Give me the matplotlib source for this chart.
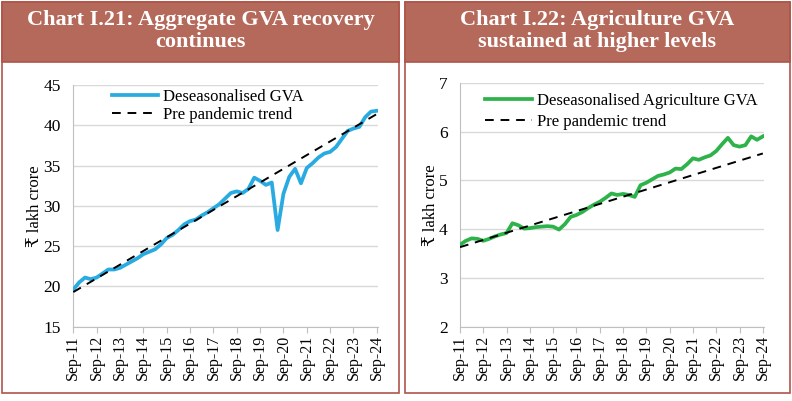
import matplotlib
matplotlib.use("Agg")
import matplotlib.pyplot as plt
from matplotlib.patches import Rectangle
import numpy as np

# quarterly data, Sep-11 .. Sep-24 (53 quarters)
tick_labels = ["Sep-11", "Sep-12", "Sep-13", "Sep-14", "Sep-15", "Sep-16", "Sep-17",
               "Sep-18", "Sep-19", "Sep-20", "Sep-21", "Sep-22", "Sep-23", "Sep-24"]

gva = [19.6, 20.5, 21.1, 20.9, 21.1, 21.6, 22.1, 22.1, 22.3, 22.7,
       23.1, 23.5, 24.0, 24.3, 24.6, 25.2, 26.0, 26.4, 27.0, 27.7,
       28.1, 28.3, 28.8, 29.2, 29.7, 30.2, 30.9, 31.6, 31.8, 31.6,
       32.1, 33.5, 33.1, 32.6, 32.9, 27.0, 31.5, 33.6, 34.6, 32.8,
       34.7, 35.3, 36.0, 36.5, 36.7, 37.3, 38.3, 39.3, 39.6, 39.8,
       41.0, 41.7, 41.8]
gva_trend_q = [0, 52]
gva_trend = [19.3, 41.4]

agri = [3.68, 3.76, 3.81, 3.80, 3.76, 3.80, 3.85, 3.89, 3.92, 4.12,
        4.08, 4.01, 4.02, 4.04, 4.05, 4.06, 4.05, 3.99, 4.10, 4.25,
        4.29, 4.35, 4.43, 4.50, 4.56, 4.64, 4.73, 4.70, 4.72, 4.70,
        4.66, 4.90, 4.95, 5.02, 5.09, 5.12, 5.16, 5.24, 5.23, 5.33,
        5.45, 5.42, 5.47, 5.51, 5.60, 5.74, 5.87, 5.72, 5.69, 5.72,
        5.90, 5.83, 5.90]
agri_trend_q = [0, 52]
agri_trend = [3.63, 5.55]

SERIF = ["Liberation Serif", "DejaVu Serif", "DejaVu Sans"]
HEAD = "#b5695a"
EDGE = "#b0544a"
W, H = 792, 401

fig = plt.figure(figsize=(W / 100, H / 100), dpi=100)


def px(x0, y0, x1, y1):
    # pixel box (top-left origin) -> figure fraction rect
    return [x0 / W, 1 - y1 / H, (x1 - x0) / W, (y1 - y0) / H]


def panel(x0, x1, title):
    r = px(x0, 2, x1, 393)
    fig.patches.append(Rectangle((r[0], r[1]), r[2], r[3], transform=fig.transFigure,
                                 facecolor="white", edgecolor=EDGE, lw=1.2, zorder=-10))
    h = px(x0, 2, x1, 62)
    fig.patches.append(Rectangle((h[0], h[1]), h[2], h[3], transform=fig.transFigure,
                                 facecolor=HEAD, edgecolor=EDGE, lw=1.2, zorder=-9))
    fig.text((x0 + x1) / 2 / W, 1 - 31 / H, title, ha="center", va="center",
             color="white", fontsize=16, fontweight="bold", family=SERIF,
             linespacing=1.1)


def chart(rect, data, trend_q, trend, color, label, ylim, yticks):
    ax = fig.add_axes(px(*rect))
    ax.patch.set_alpha(0)
    q = np.arange(len(data))
    ax.plot(q, data, color=color, lw=2.7, solid_joinstyle="round", label=label, zorder=3)
    ax.plot(trend_q, trend, color="black", lw=1.4, ls=(0, (4.5, 3.5)),
            label="Pre pandemic trend", zorder=4)
    ax.set_xlim(0, 52.2)
    ax.set_ylim(*ylim)
    ax.set_yticks(yticks)
    ax.set_xticks(np.arange(0, 53, 4))
    ax.set_xticklabels(tick_labels, rotation=90, family=SERIF, fontsize=11.5)
    for t in ax.get_yticklabels():
        t.set_family(SERIF)
        t.set_fontsize(12.5)
    ax.grid(axis="y", color="#d9d9d9", lw=1)
    ax.set_axisbelow(True)
    for s in ("top", "right"):
        ax.spines[s].set_visible(False)
    for s in ("left", "bottom"):
        ax.spines[s].set_color("#bfbfbf")
    ax.tick_params(axis="y", length=0, pad=9)
    ax.tick_params(axis="x", length=4, color="#bfbfbf", pad=2)
    ax.set_ylabel("₹ lakh crore", family=SERIF, fontsize=12, labelpad=0)
    return ax


panel(2, 399, "Chart I.21: Aggregate GVA recovery\ncontinues")
panel(405, 790, "Chart I.22: Agriculture GVA\nsustained at higher levels")

ax1 = chart((73.3, 85, 378, 326.7), gva, gva_trend_q, gva_trend, "#29abe2",
            "Deseasonalised GVA", (15, 45), [15, 20, 25, 30, 35, 40, 45])
ax1.legend(loc="upper left", bbox_to_anchor=(0.105, 1.01), frameon=False,
           prop={"family": SERIF, "size": 12}, handlelength=2.75,
           handletextpad=0.3, labelspacing=0.1, borderaxespad=0)

ax2 = chart((460, 82.7, 764, 326.7), agri, agri_trend_q, agri_trend, "#2db34a",
            "Deseasonalised Agriculture GVA", (2, 7), [2, 3, 4, 5, 6, 7])
ax2.legend(loc="upper left", bbox_to_anchor=(0.06, 0.985), frameon=False,
           prop={"family": SERIF, "size": 12}, handlelength=2.8,
           handletextpad=0.3, labelspacing=0.3, borderaxespad=0)

fig.savefig("out.png", dpi=100)
